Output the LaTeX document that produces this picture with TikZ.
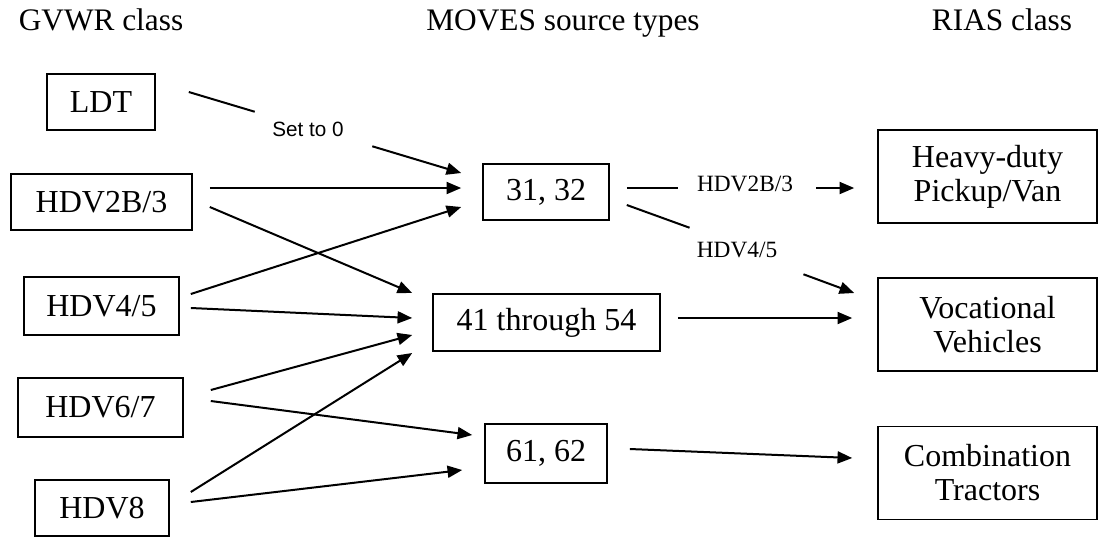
\documentclass[tikz,border=0pt]{standalone}
\usepackage{fontspec}
\setmainfont{Liberation Serif}
\newfontfamily\labsans{Liberation Sans}
\usetikzlibrary{arrows.meta,calc}
\begin{document}
\begin{tikzpicture}[x=0.75pt,y=-0.75pt,
  box/.style={draw,line width=1.2pt,inner sep=0pt,align=center,font=\fontsize{24}{25.5}\selectfont},
  ttl/.style={anchor=base,inner sep=0pt,font=\fontsize{23.5}{25}\selectfont},
  lab/.style={inner sep=0pt,font=\fontsize{17.5}{19}\selectfont},
  arr/.style={line width=1.5pt,-{Triangle[length=11pt,width=9pt]}},
  seg/.style={line width=1.5pt}]
\useasboundingbox (0,0) rectangle (1098,537);
% titles
\node[ttl] (t1) at (101,30) {GVWR class};
\node[ttl] (t2) at (563,30) {MOVES source types};
\node[ttl] (t3) at (1002,30) {RIAS class};
% left boxes
\node[box,minimum width=81pt,minimum height=42pt] (ldt) at (101,102) {LDT};
\node[box,minimum width=135.75pt,minimum height=42pt] (h2b) at (101.5,202) {HDV2B/3};
\node[box,minimum width=116.25pt,minimum height=43.5pt] (h45) at (101.5,306) {HDV4/5};
\node[box,minimum width=123.75pt,minimum height=44.25pt] (h67) at (100.5,407.5) {HDV6/7};
\node[box,minimum width=100.5pt,minimum height=42pt] (h8) at (102,508) {HDV8};
% middle boxes
\node[box,minimum width=94.5pt,minimum height=42pt] (m31) at (546,192) {31, 32};
\node[box,minimum width=170.25pt,minimum height=42.75pt] (m41) at (546.5,322.5) {41 through 54};
\node[box,minimum width=91.5pt,minimum height=44.25pt] (m61) at (546,453.5) {61, 62};
% right boxes
\node[box,minimum width=164.25pt,minimum height=69.75pt] (rhd) at (987.5,176.5) {Heavy-duty\\Pickup/Van};
\node[box,minimum width=164.25pt,minimum height=69.75pt] (rvo) at (987.5,324.5) {Vocational\\Vehicles};
\node[box,minimum width=164.25pt,minimum height=69.75pt] (rco) at (987.5,473) {Combination\\Tractors};
% labels
\node[inner sep=0pt,font=\labsans\fontsize{15.5}{17}\selectfont,minimum width=54pt,minimum height=15pt] (set) at (308,129) {Set to 0};
\node[lab,minimum width=72pt,minimum height=15pt] (l1) at (745,184) {HDV2B/3};
\node[lab,minimum width=60pt,minimum height=15pt] (l2) at (737,250) {HDV4/5};
% LDT via Set to 0
\draw[seg] ($(ldt.east)+(33,-10)$) -- ($(set.north west)+(-17,-7)$);
\draw[arr] ($(set.south east)+(28,7)$) -- ($(m31.west)+(-21,-19)$);
% left to middle
\draw[arr] ($(h2b.east)+(17,-14)$) -- ($(m31.west)+(-21,-4)$);
\draw[arr] ($(h2b.east)+(17,5)$) -- ($(m41.west)+(-20,-29.5)$);
\draw[arr] ($(h45.east)+(11,-12)$) -- ($(m31.west)+(-21,15)$);
\draw[arr] ($(h45.east)+(11,2)$) -- ($(m41.west)+(-20,-4.5)$);
\draw[arr] ($(h67.east)+(27,-17.5)$) -- ($(m41.west)+(-20,12.5)$);
\draw[arr] ($(h8.east)+(21,-16)$) -- ($(m41.west)+(-20,30.5)$);
\draw[arr] ($(h67.east)+(27,-6.5)$) -- ($(m61.west)+(-12,-18.5)$);
\draw[arr] ($(h8.east)+(21,-6)$) -- ($(m61.west)+(-22,16.5)$);
% middle to right
\draw[seg] ($(m31.east)+(17,-4)$) -- ($(l1.west)+(-19,4)$);
\draw[arr] ($(l1.east)+(23,4)$) -- ($(rhd.west)+(-23,11.5)$);
\draw[seg] ($(m31.east)+(17,13)$) -- ($(l2.north west)+(-7,-12)$);
\draw[arr] ($(l2.south east)+(26,14)$) -- ($(rvo.west)+(-23,-31.5)$);
\draw[arr] ($(m41.east)+(17,-4.5)$) -- ($(rvo.west)+(-25,-6.5)$);
\draw[arr] ($(m61.east)+(22,-4.5)$) -- ($(rco.west)+(-25,-15)$);
\end{tikzpicture}
\end{document}
